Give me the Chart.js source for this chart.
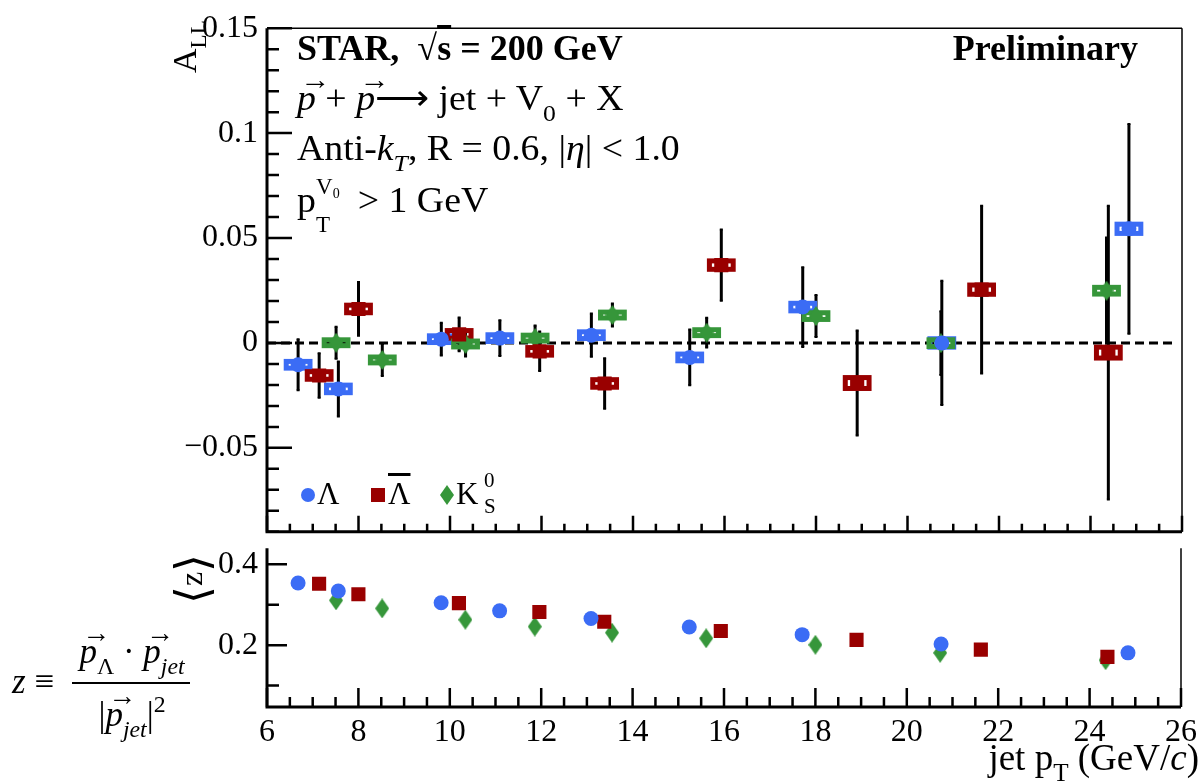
<!DOCTYPE html>
<html>
<head>
<meta charset="utf-8">
<script src="https://cdn.jsdelivr.net/npm/chart.js@4.4.1/dist/chart.umd.min.js"></script>
<style>
  html, body { margin: 0; padding: 0; background: #fff; }
  #wrap { position: relative; width: 1203px; height: 782px; background: #fff; overflow: hidden;
          font-family: 'Liberation Serif', 'Times New Roman', serif; color: #000; }
  #wrap canvas { position: absolute; left: 0; }
  .t { position: absolute; white-space: nowrap; line-height: 1; }
  .b { font-weight: bold; }
  .wide { transform: scaleX(1.08); transform-origin: 0 0; }
  .vec { position: relative; display: inline-block; }
  .vec::before { content: '\2192'; position: absolute; left: 0.1em; top: -0.55em;
                 font-size: 0.8em; font-style: normal; font-weight: bold; }
  sub, sup { font-size: 0.68em; line-height: 0; }
  sub { vertical-align: -0.45em; }
  sup { vertical-align: 0.6em; }
  .rot { transform: rotate(-90deg); transform-origin: 0 0; }
  .mk { position: absolute; }
</style>
</head>
<body>
<div id="wrap">
  <canvas id="allChart" width="1203" height="560" style="top:0"></canvas>
  <canvas id="zChart" width="1203" height="262" style="top:520px"></canvas>

  <!-- axis titles -->
  <div class="t rot" style="left:168px; top:73px; font-size:34px;">A<sub>LL</sub></div>
  <div class="t rot" style="left:170px; top:604px; font-size:32px;"><span style="font-size:46px; vertical-align:-0.12em">&#x27E8;</span>z<span style="font-size:46px; vertical-align:-0.12em">&#x27E9;</span></div>
  <div class="t" style="right:4px; top:739px; font-size:37px;">jet p<sub>T</sub> (GeV/<i>c</i>)</div>

  <!-- labels inside the asymmetry panel -->
  <div class="t b" style="left:297px; top:30px; font-size:36px;">STAR,&nbsp; &#x221A;<span style="text-decoration:overline">s</span> = 200 GeV</div>
  <div class="t b" style="right:65px; top:30px; font-size:36px;">Preliminary</div>
  <div class="t wide" style="left:297px; top:81px; font-size:35px;"><i class="vec">p</i> + <i class="vec">p</i>&#x27F6; jet + V<sub>0</sub> + X</div>
  <div class="t wide" style="left:297px; top:131px; font-size:35px;">Anti-<i>k</i><sub><i>T</i></sub>, R = 0.6, |<i>&#x03B7;</i>| &lt; 1.0</div>
  <div class="t wide" style="left:297px; top:183px; font-size:35px;">p<span style="display:inline-block; width:30px;"></span> &gt; 1 GeV</div>
  <div class="t" style="left:316px; top:175px; font-size:23px;">V<sub style="font-size:14px; vertical-align:-0.3em">0</sub></div>
  <div class="t" style="left:316px; top:213px; font-size:23px;">T</div>

  <!-- legend -->
  <div class="mk" style="left:301px; top:488px; width:14px; height:14px; border-radius:50%; background:#3b6cf5;"></div>
  <div class="t" style="left:317px; top:478px; font-size:31px;">&#x039B;</div>
  <div class="mk" style="left:371px; top:488px; width:14px; height:14px; background:#990000;"></div>
  <div class="t" style="left:388px; top:478px; font-size:31px; text-decoration:overline;">&#x039B;</div>
  <div class="mk" style="left:440px; top:485px; width:14px; height:20px; background:#36963a; clip-path:polygon(50% 0,100% 50%,50% 100%,0 50%);"></div>
  <div class="t" style="left:456px; top:478px; font-size:31px;">K</div>
  <div class="t" style="left:484px; top:470px; font-size:21px;">0</div>
  <div class="t" style="left:484px; top:496px; font-size:21px;">S</div>

  <!-- definition of z -->
  <div class="t" style="left:12px; top:664px; font-size:35px;"><i>z</i> &#x2261;</div>
  <div class="t" style="left:70px; top:634px; width:124px; text-align:center; font-size:35px;"><i class="vec">p</i><sub>&#x039B;</sub> &#x00B7; <i class="vec">p</i><sub><i>jet</i></sub></div>
  <div class="mk" style="left:72px; top:682px; width:118px; height:2px; background:#000;"></div>
  <div class="t" style="left:70px; top:697px; width:124px; text-align:center; font-size:35px;">|<i class="vec">p</i><sub><i>jet</i></sub>|<sup>2</sup></div>
</div>

<script>
// jet pT bin centres, slightly offset per species
const ptLam  = [6.68, 7.56, 9.81, 11.09, 13.09, 15.24, 17.71, 20.75, 24.84];
const ptLbar = [7.14, 8.00, 10.20, 11.96, 13.38, 15.93, 18.90, 21.62, 24.39];
const ptK0   = [7.51, 8.52, 10.34, 11.86, 13.55, 15.61, 18.00, 20.73, 24.35];

// A_LL with statistical and systematic uncertainties
const allLam   = [-0.0104, -0.0219, 0.0018, 0.0023, 0.0037, -0.0069, 0.0171, 0.0000, 0.0544];
const statLam  = [0.0122, 0.0131, 0.0078, 0.0085, 0.0103, 0.0133, 0.0190, 0.0296, 0.0500];
const sysLam   = [0.0016, 0.0018, 0.0016, 0.0016, 0.0016, 0.0016, 0.0018, 0.0020, 0.0022];

const allLbar  = [-0.0155, 0.0162, 0.0041, -0.0040, -0.0193, 0.0371, -0.0191, 0.0254, -0.0046];
const statLbar = [0.0106, 0.0128, 0.0080, 0.0094, 0.0120, 0.0170, 0.0250, 0.0400, 0.0700];
const sysLbar  = [0.0018, 0.0018, 0.0018, 0.0018, 0.0018, 0.0020, 0.0026, 0.0022, 0.0026];

const allK0    = [0.0001, -0.0081, -0.0005, 0.0023, 0.0133, 0.0049, 0.0128, -0.0001, 0.0249];
const statK0   = [0.0076, 0.0076, 0.0060, 0.0060, 0.0055, 0.0071, 0.0100, 0.0152, 0.0253];
const sysK0    = [0.0014, 0.0014, 0.0014, 0.0014, 0.0014, 0.0014, 0.0016, 0.0016, 0.0016];

// mean momentum fraction <z>
const zLam  = [0.354, 0.334, 0.305, 0.285, 0.266, 0.245, 0.226, 0.203, 0.181];
const zLbar = [0.352, 0.326, 0.304, 0.282, 0.258, 0.235, 0.213, 0.189, 0.171];
const zK0   = [0.311, 0.291, 0.263, 0.246, 0.231, 0.217, 0.201, 0.181, 0.163];

// axis ticks
const xTicks = [6, 8, 10, 12, 14, 16, 18, 20, 22, 24, 26];
const xTickLabels = ['6', '8', '10', '12', '14', '16', '18', '20', '22', '24', '26'];
const allTicks = [-0.05, 0, 0.05, 0.1, 0.15];
const allTickLabels = ['\u22120.05', '0', '0.05', '0.1', '0.15'];
const zTicks = [0.2, 0.4];
const zTickLabels = ['0.2', '0.4'];

const BLUE = '#3b6cf5', RED = '#990000', GREEN = '#36963a';
const FONT = "'Liberation Serif', 'Times New Roman', serif";

function diamond(color, w, h) {
    const c = document.createElement('canvas');
    c.width = w; c.height = h;
    const g = c.getContext('2d');
    g.fillStyle = color;
    g.beginPath();
    g.moveTo(w / 2, 0); g.lineTo(w, h / 2); g.lineTo(w / 2, h); g.lineTo(0, h / 2);
    g.closePath();
    g.fill();
    return c;
}
const diamondK0 = diamond(GREEN, 14, 20);

function points(xs, ys) {
    return xs.map((x, i) => ({ x: x, y: ys[i] }));
}

// error bars, systematic boxes and the dashed zero line
const errorBoxes = {
    id: 'errorBoxes',
    beforeDatasetsDraw(chart) {
        const ctx = chart.ctx;
        const x = chart.scales.x, y = chart.scales.y;
        ctx.save();
        ctx.strokeStyle = '#000';
        ctx.lineWidth = 3;
        ctx.setLineDash([9, 5]);
        ctx.beginPath();
        ctx.moveTo(x.getPixelForValue(6), y.getPixelForValue(0));
        ctx.lineTo(x.getPixelForValue(25.8), y.getPixelForValue(0));
        ctx.stroke();
        ctx.setLineDash([]);

        chart.data.datasets.forEach(ds => {
            ds.data.forEach((p, i) => {
                const px = x.getPixelForValue(p.x);
                const hi = y.getPixelForValue(p.y + ds.stat[i]);
                const lo = y.getPixelForValue(p.y - ds.stat[i]);
                ctx.lineWidth = 3;
                ctx.beginPath();
                ctx.moveTo(px, hi); ctx.lineTo(px, lo);
                ctx.stroke();
                ctx.lineWidth = 2;
                ctx.beginPath();
                ctx.moveTo(px - 1.5, hi); ctx.lineTo(px + 1.5, hi);
                ctx.moveTo(px - 1.5, lo); ctx.lineTo(px + 1.5, lo);
                ctx.stroke();
            });
        });

        // systematic boxes: thick outline, the marker sits on top
        chart.data.datasets.forEach(ds => {
            ctx.strokeStyle = ds.backgroundColor;
            ctx.lineWidth = 5;
            ds.data.forEach((p, i) => {
                const x0 = x.getPixelForValue(p.x - 0.26), x1 = x.getPixelForValue(p.x + 0.26);
                const y0 = y.getPixelForValue(p.y + ds.sys[i]), y1 = y.getPixelForValue(p.y - ds.sys[i]);
                ctx.strokeRect(x0, y0, x1 - x0, y1 - y0);
            });
        });
        ctx.restore();
    }
};

// ROOT style frame with ticks pointing inwards
const rootAxes = {
    id: 'rootAxes',
    afterDraw(chart, args, o) {
        const ctx = chart.ctx, a = chart.chartArea;
        const x = chart.scales.x, y = chart.scales.y;
        const near = (list, v) => list.some(m => Math.abs(m - v) < 1e-9);
        ctx.save();
        ctx.strokeStyle = '#000';

        ctx.lineWidth = 1.5;
        ctx.beginPath();
        if (o.topEdge) { ctx.moveTo(a.left, a.top); ctx.lineTo(a.right, a.top); }
        ctx.moveTo(a.right, a.top); ctx.lineTo(a.right, a.bottom);
        ctx.stroke();

        ctx.lineWidth = 3;
        ctx.beginPath();
        ctx.moveTo(a.left, a.top); ctx.lineTo(a.left, a.bottom + 1.5);
        ctx.moveTo(a.left - 1.5, a.bottom); ctx.lineTo(a.right, a.bottom);
        ctx.stroke();

        ctx.lineWidth = 2.5;
        ctx.beginPath();
        for (let k = Math.ceil(x.min / o.xStep - 1e-9); k * o.xStep <= x.max + 1e-9; k++) {
            const v = k * o.xStep;
            const len = near(o.xMajor, v) ? o.xMajorLen : o.xMinorLen;
            const px = x.getPixelForValue(v);
            ctx.moveTo(px, a.bottom); ctx.lineTo(px, a.bottom - len);
        }
        for (let k = Math.ceil(y.min / o.yStep - 1e-9); k * o.yStep <= y.max + 1e-9; k++) {
            const v = k * o.yStep;
            const len = near(o.yMajor, v) ? o.yMajorLen : o.yMinorLen;
            const py = y.getPixelForValue(v);
            ctx.moveTo(a.left, py); ctx.lineTo(a.left + len, py);
        }
        ctx.stroke();
        ctx.restore();
    }
};

const tickFont = { family: FONT, size: 32 };

new Chart(document.getElementById('allChart'), {
    type: 'scatter',
    data: {
        datasets: [
            { label: 'Lambda', data: points(ptLam, allLam), stat: statLam, sys: sysLam,
              backgroundColor: BLUE, borderColor: BLUE, pointStyle: 'circle', pointRadius: 7.5, borderWidth: 0 },
            { label: 'Lambda-bar', data: points(ptLbar, allLbar), stat: statLbar, sys: sysLbar,
              backgroundColor: RED, borderColor: RED, pointStyle: 'rect', pointRadius: 10, borderWidth: 0 },
            { label: 'K0S', data: points(ptK0, allK0), stat: statK0, sys: sysK0,
              backgroundColor: GREEN, borderColor: GREEN, pointStyle: diamondK0, pointRadius: 10, borderWidth: 0 }
        ]
    },
    options: {
        responsive: false,
        devicePixelRatio: 1,
        animation: false,
        events: [],
        layout: { padding: { left: 0, top: 18, right: 21, bottom: 20 } },
        plugins: {
            legend: { display: false },
            tooltip: { enabled: false },
            rootAxes: { topEdge: true, xStep: 0.5, xMajor: xTicks, xMajorLen: 16, xMinorLen: 8,
                        yStep: 0.01, yMajor: allTicks, yMajorLen: 25, yMinorLen: 12 }
        },
        scales: {
            x: { type: 'linear', min: 6, max: 26, display: false },
            y: {
                min: -0.09, max: 0.15,
                grid: { display: false, drawTicks: false },
                border: { display: false },
                afterBuildTicks: s => { s.ticks = allTicks.map(v => ({ value: v })); },
                afterFit: s => { s.width = 267; },
                ticks: { color: '#000', font: tickFont, padding: 9,
                         callback: (v, i) => allTickLabels[i] }
            }
        }
    },
    plugins: [errorBoxes, rootAxes]
});

new Chart(document.getElementById('zChart'), {
    type: 'scatter',
    data: {
        datasets: [
            { label: 'Lambda', data: points(ptLam, zLam),
              backgroundColor: BLUE, borderColor: BLUE, pointStyle: 'circle', pointRadius: 7.5, borderWidth: 0 },
            { label: 'Lambda-bar', data: points(ptLbar, zLbar),
              backgroundColor: RED, borderColor: RED, pointStyle: 'rect', pointRadius: 10, borderWidth: 0 },
            { label: 'K0S', data: points(ptK0, zK0),
              backgroundColor: GREEN, borderColor: GREEN, pointStyle: diamondK0, pointRadius: 10, borderWidth: 0 }
        ]
    },
    options: {
        responsive: false,
        devicePixelRatio: 1,
        animation: false,
        events: [],
        layout: { padding: { left: 0, top: 20, right: 21, bottom: 0 } },
        plugins: {
            legend: { display: false },
            tooltip: { enabled: false },
            rootAxes: { topEdge: false, xStep: 0.5, xMajor: xTicks, xMajorLen: 19, xMinorLen: 10,
                        yStep: 0.1, yMajor: zTicks, yMajorLen: 20, yMinorLen: 12 }
        },
        scales: {
            x: {
                type: 'linear', min: 6, max: 26,
                grid: { display: false, drawTicks: false },
                border: { display: false },
                afterBuildTicks: s => { s.ticks = xTicks.map(v => ({ value: v })); },
                afterFit: s => { s.height = 75; },
                ticks: { color: '#000', font: tickFont, padding: 6, autoSkip: false, maxRotation: 0,
                         callback: (v, i) => xTickLabels[i] }
            },
            y: {
                min: 0.047, max: 0.44,
                grid: { display: false, drawTicks: false },
                border: { display: false },
                afterBuildTicks: s => { s.ticks = zTicks.map(v => ({ value: v })); },
                afterFit: s => { s.width = 267; },
                ticks: { color: '#000', font: tickFont, padding: 9,
                         callback: (v, i) => zTickLabels[i] }
            }
        }
    },
    plugins: [rootAxes]
});
</script>
</body>
</html>
